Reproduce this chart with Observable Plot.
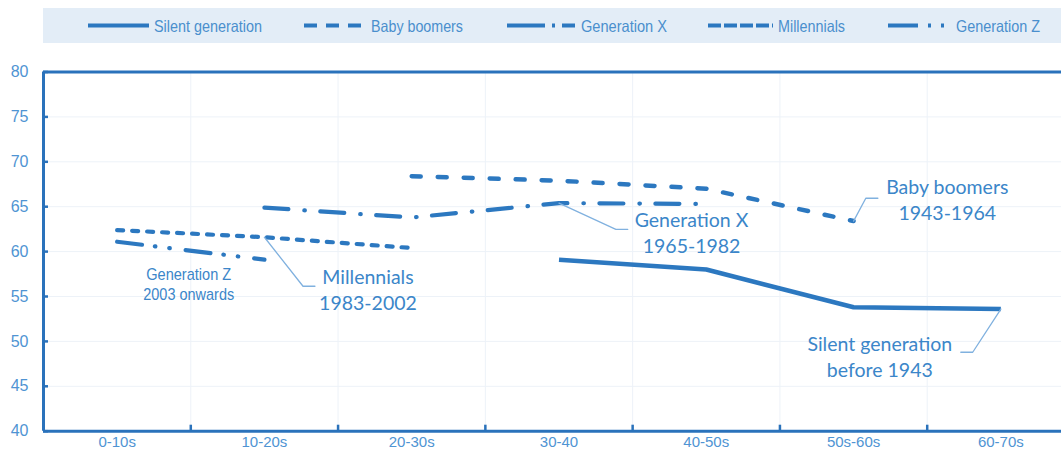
<!DOCTYPE html>
<html>
<head>
<meta charset="utf-8">
<script src="https://cdn.jsdelivr.net/npm/d3@7"></script>
<script src="https://cdn.jsdelivr.net/npm/@observablehq/plot@0.6"></script>
<style>
  html, body { margin: 0; padding: 0; background: #ffffff; }
  #legend, #chart { display: block; width: 1061px; overflow: hidden; }
  svg { display: block; overflow: hidden; }
</style>
</head>
<body>
<div id="legend"></div>
<div id="chart"></div>
<script>
// ---- data ----
const categories = ["0-10s", "10-20s", "20-30s", "30-40", "40-50s", "50s-60s", "60-70s"];
const seriesNames = ["Silent generation", "Baby boomers", "Generation X", "Millennials", "Generation Z"];
const silentGeneration = [null, null, null, 59.1, 58.0, 53.8, 53.6];
const babyBoomers = [null, null, 68.4, 67.9, 67.0, 63.4, null];
const generationX = [null, 64.9, 63.8, 65.4, 65.3, null, null];
const millennials = [62.4, 61.6, 60.4, null, null, null, null];
const generationZ = [61.1, 59.1, null, null, null, null, null];
const yTicks = [40, 45, 50, 55, 60, 65, 70, 75, 80];

// annotations (x = category index, y = value)
const annotationText = ["Generation Z\n2003 onwards", "Millennials\n1983-2002", "Generation X\n1965-1982", "Baby boomers\n1943-1964", "Silent generation\nbefore 1943"];
const annotationX = [0.486, 1.703, 3.90, 5.636, 5.178];
const annotationY = [56.41, 55.91, 62.26, 65.88, 48.4];
const leaderSeries = ["Millennials", "Generation X", "Baby boomers", "Silent generation"];
const leaderX = [[1, 1.262, 1.343], [3, 3.386, 3.467], [5, 5.083, 5.165], [6, 5.809, 5.728]];
const leaderY = [[61.6, 56.14, 56.14], [65.4, 62.48, 62.48], [63.4, 65.94, 65.94], [53.6, 48.79, 48.79]];

// ---- styles ----
const lineColor = "#2c78c0";
const axisColor = "#2a72bb";
const tickLabelColor = "#4f94d3";
const annColor = "#3b86c9";
const leaderColor = "#80b1df";
const sans = "'Liberation Sans',Arial,sans-serif";
const calib = "Lato,'Open Sans',sans-serif";
const dashes = {
  "Silent generation": null,
  "Baby boomers": "9,17",
  "Generation X": "24,16,0.5,15.5",
  "Millennials": "6,9",
  "Generation Z": "25,13,0.5,14,0.5,16"
};
const widths = {"Silent generation": 4.6, "Baby boomers": 4.5, "Generation X": 4.2, "Millennials": 4.2, "Generation Z": 4.2};

const valuesBySeries = {
  "Silent generation": silentGeneration,
  "Baby boomers": babyBoomers,
  "Generation X": generationX,
  "Millennials": millennials,
  "Generation Z": generationZ
};
const rows = [];
for (const s of seriesNames) {
  valuesBySeries[s].forEach((v, i) => { if (v != null) rows.push({series: s, i, value: v}); });
}
const annotations = annotationText.map((t, k) => ({text: t, x: annotationX[k], y: annotationY[k], big: k > 0}));
const leaders = [];
leaderSeries.forEach((s, k) => leaderX[k].forEach((x, j) => leaders.push({series: s, x, y: leaderY[k][j]})));

// ---- legend ----
const legendW = 1061, legendH = 50;
const lg = d3.select("#legend").append("svg").attr("width", legendW).attr("height", legendH);
lg.append("rect").attr("x", 43).attr("y", 8).attr("width", legendW - 43).attr("height", 35).attr("fill", "#e3edf7");
const legendItems = [
  {name: "Silent generation", x1: 88, x2: 149, tx: 154, tw: 108, dash: null},
  {name: "Baby boomers", x1: 304, x2: 366, tx: 371, tw: 92, dash: "13,9"},
  {name: "Generation X", x1: 507, x2: 575, tx: 581, tw: 86, dash: "38,7,3,7"},
  {name: "Millennials", x1: 708, x2: 773, tx: 778, tw: 67, dash: "13,3,13,3,13,3,13,3,3,0"},
  {name: "Generation Z", x1: 888, x2: 947, tx: 956, tw: 84, dash: "30,10,3,10,3,20"}
];
for (const it of legendItems) {
  lg.append("line").attr("x1", it.x1).attr("x2", it.x2).attr("y1", 25.5).attr("y2", 25.5)
    .attr("stroke", lineColor).attr("stroke-width", 4).attr("stroke-dasharray", it.dash);
  lg.append("text").attr("x", it.tx).attr("y", 26).attr("dy", "0.35em")
    .attr("fill", "#4a8fcd").attr("font-family", sans).attr("font-size", 16.5)
    .attr("textLength", it.tw).attr("lengthAdjust", "spacingAndGlyphs").text(it.name);
}

// ---- chart ----
const chart = Plot.plot({
  width: 1061,
  height: 402,
  marginTop: 21.5,
  marginBottom: 21.3,
  marginLeft: 43,
  marginRight: 0,
  style: {background: "#ffffff", overflow: "hidden"},
  x: {type: "linear", domain: [-0.5, 6.5], range: [43, 1074]},
  y: {domain: [40, 80]},
  marks: [
    Plot.ruleY(yTicks.slice(1, -1), {stroke: "#edf2f8", strokeWidth: 1}),
    Plot.ruleX(d3.range(0.5, 6.5, 1), {stroke: "#edf2f8", strokeWidth: 1}),
    ...seriesNames.map(s => Plot.line(rows.filter(r => r.series === s), {
      x: "i", y: "value", stroke: lineColor, strokeWidth: widths[s],
      strokeDasharray: dashes[s], strokeLinecap: s === "Silent generation" ? "butt" : "round",
      strokeLinejoin: "round"
    })),
    ...leaderSeries.map(s => Plot.line(leaders.filter(d => d.series === s), {
      x: "x", y: "y", stroke: leaderColor, strokeWidth: 1.3
    })),
    Plot.text(annotations.filter(d => !d.big), {
      x: "x", y: "y", text: "text", fill: annColor, fontFamily: sans, fontSize: 17,
      lineAnchor: "middle", lineHeight: 1.18
    }),
    Plot.text(annotations.filter(d => d.big), {
      x: "x", y: "y", text: "text", fill: annColor, fontFamily: calib, fontSize: 19.5,
      lineAnchor: "middle", lineHeight: 1.35
    }),
    Plot.ruleY([40, 80], {stroke: axisColor, strokeWidth: 3}),
    Plot.ruleX([-0.5], {stroke: axisColor, strokeWidth: 3}),
    Plot.axisY({ticks: yTicks, tickSize: 5, dx: 5, tickFormat: () => "", stroke: axisColor, strokeWidth: 2.5}),
    Plot.axisY({ticks: yTicks, tickSize: 0, tickPadding: 15, fill: tickLabelColor, fontSize: 16, fontFamily: sans}),
    Plot.axisX({ticks: d3.range(0.5, 6.5, 1), tickSize: 6, dy: -6, tickFormat: () => "", stroke: axisColor, strokeWidth: 2.5}),
    Plot.axisX({ticks: d3.range(0, 7), tickSize: 0, tickPadding: 5, tickFormat: i => categories[i],
      fill: tickLabelColor, fontSize: 15, fontFamily: sans})
  ]
});
// condense the small Generation Z label to the narrow face of the original
const narrowWidths = {"Generation Z": 85, "2003 onwards": 91};
d3.select(chart).selectAll("tspan").each(function() {
  const w = narrowWidths[this.textContent];
  if (w) d3.select(this).attr("textLength", w).attr("lengthAdjust", "spacingAndGlyphs");
});
document.getElementById("chart").appendChild(chart);
</script>
</body>
</html>
